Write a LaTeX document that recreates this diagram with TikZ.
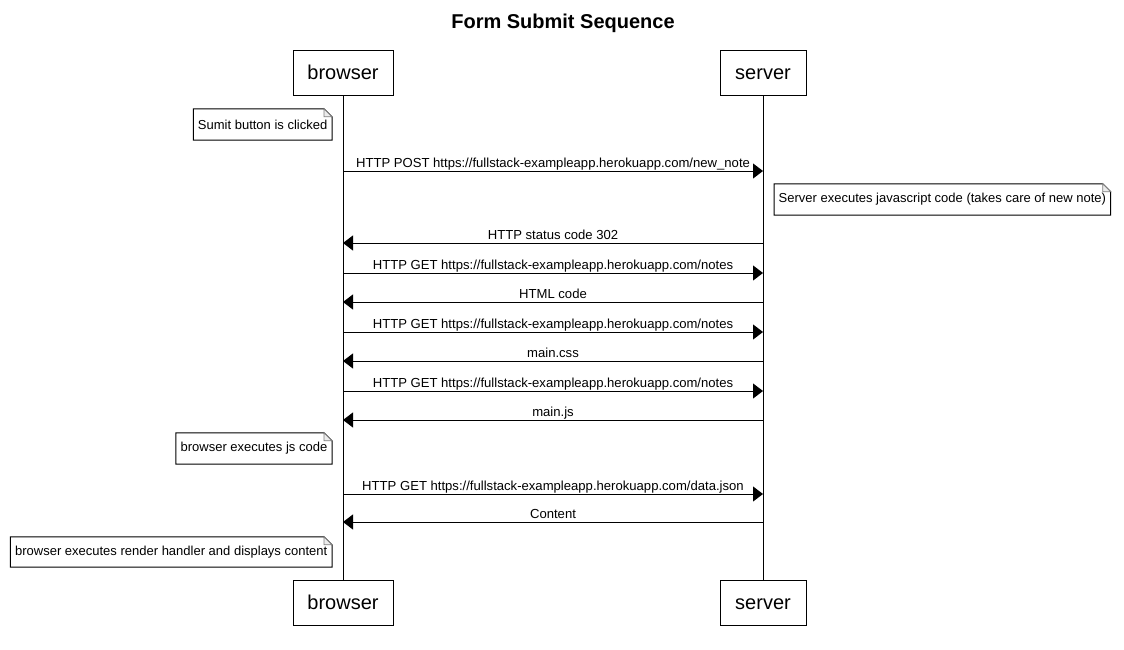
\documentclass[tikz,border=0pt]{standalone}
\usepackage{fontspec}
\setmainfont{Liberation Sans}
\usetikzlibrary{arrows.meta}
\tikzset{
  actor/.style={draw, line width=1pt, minimum height=45pt, font=\fontsize{20}{24}\selectfont, inner sep=0pt, text height=17pt, text depth=4pt},
  msg/.style={line width=1pt, -{Triangle[length=10pt,width=15pt]}},
  mlabel/.style={above, inner sep=0pt, text height=9.5pt, text depth=3pt, font=\fontsize{13.1}{15}\selectfont},
  notetext/.style={inner xsep=4.5pt, inner ysep=0pt, minimum height=31pt, font=\fontsize{13}{15}\selectfont},
  life/.style={line width=1pt},
  fold/.style={draw=gray, fill=gray!15, line width=0.8pt}
}
\newcommand\dogear[1]{%
  \draw[line width=1pt] (#1.north west) -- ([xshift=-8pt]#1.north east) -- ([yshift=-8pt]#1.north east) -- (#1.south east) -- (#1.south west) -- cycle;
  \draw[fold] ([xshift=-8pt]#1.north east) -- ([xshift=-8pt,yshift=-8pt]#1.north east) -- ([yshift=-8pt]#1.north east) -- cycle;}
\begin{document}
\begin{tikzpicture}[x=1pt,y=-1pt]
\useasboundingbox[fill=white] (0,0) rectangle (1124,650);
\node[font=\bfseries\fontsize{20}{24}\selectfont] (title) at (563,23.5) {Form Submit Sequence};
% actors
\node[actor, minimum width=100pt] (bt) at (343,73.5) {browser};
\node[actor, minimum width=86pt] (st) at (763,73.5) {server};
\node[actor, minimum width=100pt] (bb) at (343,602.5) {browser};
\node[actor, minimum width=86pt] (sb) at (763,602.5) {server};
\draw[life] (bt.south) -- (bb.north);
\draw[life] (st.south) -- (sb.north);
% message end points
\foreach \i/\y in {1/171,2/243,3/273,4/302,5/332,6/361,7/391,8/420,9/494,10/522}{
  \coordinate (b\i) at (343,\y);
  \coordinate (s\i) at (763,\y);
}
% notes
\node[notetext, anchor=east] (n1) at (332,124.5) {Sumit button is clicked};
\dogear{n1}
\draw[msg] (b1) -- node[mlabel] {HTTP POST https://fullstack-exampleapp.herokuapp.com/new\_note} (s1);
\node[notetext, anchor=west] (n2) at (774,199.5) {Server executes javascript code (takes care of new note)};
\dogear{n2}
\draw[msg] (s2) -- node[mlabel] {HTTP status code 302} (b2);
\draw[msg] (b3) -- node[mlabel] {HTTP GET https://fullstack-exampleapp.herokuapp.com/notes} (s3);
\draw[msg] (s4) -- node[mlabel] {HTML code} (b4);
\draw[msg] (b5) -- node[mlabel] {HTTP GET https://fullstack-exampleapp.herokuapp.com/notes} (s5);
\draw[msg] (s6) -- node[mlabel] {main.css} (b6);
\draw[msg] (b7) -- node[mlabel] {HTTP GET https://fullstack-exampleapp.herokuapp.com/notes} (s7);
\draw[msg] (s8) -- node[mlabel] {main.js} (b8);
\node[notetext, anchor=east] (n3) at (332,448.5) {browser executes js code};
\dogear{n3}
\draw[msg] (b9) -- node[mlabel] {HTTP GET https://fullstack-exampleapp.herokuapp.com/data.json} (s9);
\draw[msg] (s10) -- node[mlabel] {Content} (b10);
\node[notetext, anchor=east, minimum height=30pt] (n4) at (332,552) {browser executes render handler and displays content};
\dogear{n4}
\end{tikzpicture}
\end{document}
